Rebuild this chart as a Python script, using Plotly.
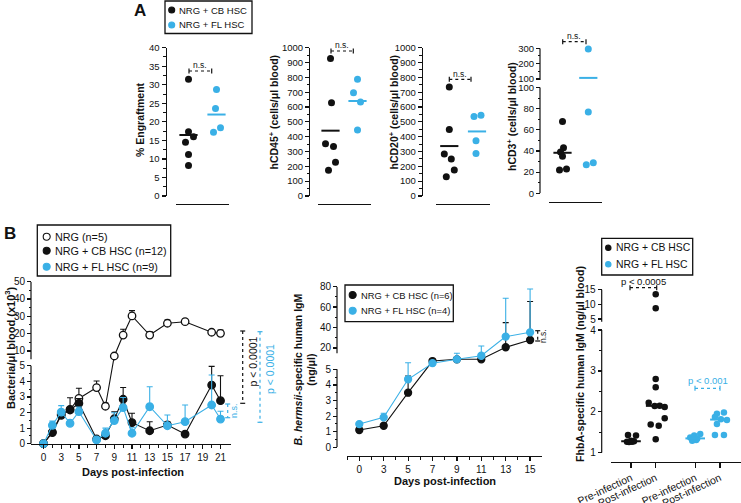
import numpy as np
import plotly.graph_objects as go

W, H = 741, 503
INK = "#111111"
SKY = "#3AB0E6"
FONT = "Liberation Sans, Arial, Helvetica, sans-serif"

# ============================ DATA ============================
# Panel A (one value per mouse)
engraft_cb = [31.5, 17.3, 16.0, 14.5, 11.2, 8.2]
engraft_fl = [28.7, 23.6, 18.4, 17.2]
hcd45_cb = [928, 629, 353, 333, 227, 173]
hcd45_fl = [787, 697, 634, 445]
hcd20_cb = [735, 448, 283, 249, 176, 129]
hcd20_fl = [545, 536, 373, 287]
hcd3_cb = [68, 43, 39, 35, 23, 22]
hcd3_fl = [296, 77, 29, 27]

# Panel B left: bacteria/µl blood (x10^3), mean and upper SEM
b1_x = [0, 1, 2, 3, 4, 6, 7, 8, 9, 10, 12, 14, 16, 19, 20]
b1_tick_x = [0, 2, 4, 6, 8, 10, 12, 14, 16, 18, 20]
b1_tick_text = ["0", "3", "5", "7", "9", "11", "13", "15", "17", "19", "21"]
nrg_mean = [0, 0.75, 1.9, 2.2, 2.9, 3.6, 2.4, 7.1, 19.2, 30.2, 19.2, 26.0, 26.9, 20.8, 20.2]
nrg_sem = [0, 0, 0, 0, 0.65, 0.42, 0.2, 0, 3.3, 3.1, 2.0, 1.9, 1.4, 1.3, 1.9]
cb_mean = [0, 0.71, 1.82, 2.16, 2.59, 0.3, 0.51, 1.6, 2.85, 1.35, 0.83, 1.2, 0.62, 3.76, 2.76]
cb_sem = [0, 0.1, 0.2, 0.79, 0.3, 0.1, 0.1, 0.45, 0.75, 0.6, 0.58, 0.2, 0.1, 1.2, 1.6]
fl_mean = [0, 1.18, 2.03, 1.31, 2.05, 0.24, 0.67, 1.48, 2.31, 0.67, 2.37, 1.15, 1.41, 2.48, 1.58]
fl_sem = [0, 0.27, 0.41, 0.2, 0.3, 0.1, 0.33, 0.5, 0.65, 0.35, 1.28, 0.69, 1.07, 1.92, 0.5]

# Panel B middle: B. hermsii-specific human IgM (ng/µl)
b2_days = ["0", "3", "5", "7", "9", "11", "13", "15"]
igm_cb_mean = [1.11, 1.38, 3.5, 7.2, 8.9, 8.9, 20.7, 27.8]
igm_cb_sem = [0.05, 0.1, 1.07, 0.5, 0.5, 3.0, 24.1, 37.6]
igm_fl_mean = [1.49, 1.92, 4.36, 5.1, 8.9, 12.4, 31.1, 35.3]
igm_fl_sem = [0.05, 0.26, 1.2, 0.5, 5.9, 9.5, 37.6, 42.4]

# Panel B right: FhbA-specific human IgM (ng/µl blood)
b3_labels = ["Pre-infection", "Post-infection", "Pre-infection", "Post-infection"]
fhba_cb_pre = [1.43, 1.42, 1.29, 1.28, 1.27, 1.27, 1.26]
fhba_cb_post = [13.4, 8.6, 2.80, 2.60, 2.22, 2.15, 2.14, 2.12, 1.84, 1.69, 1.66, 1.33]
fhba_fl_pre = [1.46, 1.42, 1.37, 1.35, 1.33, 1.31, 1.29]
fhba_fl_post = [1.98, 1.95, 1.87, 1.82, 1.80, 1.70, 1.43, 1.43]

# ====================== LAYOUT CONSTANTS ======================
# horizontal jitter of dots (pixels)
jit_engraft_cb = [0, 0, 5, -3, 0, 0]
jit_engraft_fl = [0, -1, 4, -3]
jit_hcd45_cb = [0, 1, -5, 3, 5, -2]
jit_hcd45_fl = [0, -4, 3, 0]
jit_hcd20_cb = [0, 0, -5, 2, 5, -3]
jit_hcd20_fl = [4, -3, -1, -1]
jit_hcd3_cb = [0, 1, -2, 0, 4, -3]
jit_hcd3_fl = [0, 0, 5, -2]
jit_cb_pre = [-3, 5, 0, 3, -4, 1, -2]
jit_cb_post = [0, 0, 0, 0, -7, 4, -1, 9, 9, -5, 3, 0]
jit_fl_pre = [5, -1, -5, 2, -2, 1, -3]
jit_fl_post = [4, -3, -5, 1, 7, -3, -5, 4]
b3_pos = [0, 1, 2.6, 3.6]


def px(x):
    return x / W


def py(y):
    return 1 - y / H


def ids(n):
    return ("x" if n == 1 else f"x{n}", "y" if n == 1 else f"y{n}")


def keys(n):
    return ("xaxis" if n == 1 else f"xaxis{n}", "yaxis" if n == 1 else f"yaxis{n}")


def make_scale(lo_k, lo_v0, hi_b, hi_k, split):
    def lo(v):
        return (np.asarray(v, float) - lo_v0) * lo_k

    def hi(v):
        return hi_b + hi_k * np.asarray(v, float)

    def tf(v):
        v = np.asarray(v, float)
        return np.where(v <= split, lo(v), hi(v))

    return lo, hi, tf


def ident(v):
    return np.asarray(v, float)


fig = go.Figure()
lay = {}
shapes = []
annos = []


def tfont(s):
    return dict(family=FONT, size=s, color=INK)


def yax(dom_bottom, dom_top, rng, pos_x, tv, tt, mv, fs, showline=True):
    return dict(domain=[py(dom_bottom), py(dom_top)], range=rng, anchor="free", position=px(pos_x),
                showline=showline, linecolor=INK, linewidth=1.2, ticks="outside", ticklen=4,
                tickwidth=1.2, tickcolor=INK, tickmode="array", tickvals=list(map(float, tv)),
                ticktext=list(tt), tickfont=tfont(fs), automargin=False,
                minor=dict(tickmode="array", tickvals=list(map(float, mv)), ticks="outside",
                           ticklen=2.5, tickwidth=1, tickcolor=INK),
                showgrid=False, zeroline=False, fixedrange=True)


def xax(x0, x1, rng, line_y, tv=None, tt=None, mv=None, fs=10, angle=None, ticks=True):
    d = dict(domain=[px(x0), px(x1)], range=rng, anchor="free", position=py(line_y),
             showline=True, linecolor=INK, linewidth=1.2, showgrid=False, zeroline=False,
             fixedrange=True, automargin=False)
    if ticks:
        d.update(ticks="outside", ticklen=4, tickwidth=1.2, tickcolor=INK, tickmode="array",
                 tickvals=tv, ticktext=tt, tickfont=tfont(fs))
        if mv is not None:
            d["minor"] = dict(tickmode="array", tickvals=mv, ticks="outside", ticklen=3,
                              tickwidth=1, tickcolor=INK)
        if angle is not None:
            d["tickangle"] = angle
    else:
        d.update(ticks="", showticklabels=False)
    return d


def vline(n_y, x, d0, d1):
    shapes.append(dict(type="line", xref="paper", yref=ids(n_y)[1], x0=px(x), x1=px(x), y0=d0, y1=d1,
                       line=dict(color=INK, width=1.2)))


def text(x, y, s, size, color=INK, angle=0, xanchor="center", yanchor="middle"):
    annos.append(dict(x=px(x), y=py(y), xref="paper", yref="paper", text=s, showarrow=False,
                      font=dict(family=FONT, size=size, color=color), textangle=angle,
                      xanchor=xanchor, yanchor=yanchor))


def pline(x0, y0, x1, y1, color, dash="solid", w=1.2):
    shapes.append(dict(type="line", xref="paper", yref="paper", x0=px(x0), y0=py(y0), x1=px(x1), y1=py(y1),
                       line=dict(color=color, width=w, dash=dash)))


def hbracket(x0, x1, y, color):
    pline(x0, y, x1, y, color, "dot")
    pline(x0, y - 2.5, x0, y + 2.5, color)
    pline(x1, y - 2.5, x1, y + 2.5, color)


def vbracket(x, y0, y1, color):
    pline(x, y0, x, y1, color, "dot")
    pline(x - 2.5, y0, x + 2.5, y0, color)
    pline(x - 2.5, y1, x + 2.5, y1, color)


def rect(x0, y0, x1, y1):
    shapes.append(dict(type="rect", xref="paper", yref="paper", x0=px(x0), y0=py(y0), x1=px(x1), y1=py(y1),
                       line=dict(color=INK, width=1.3), fillcolor="rgba(0,0,0,0)"))


def ldot(x, y, color, r, fill=None):
    shapes.append(dict(type="circle", xref="paper", yref="paper", xsizemode="pixel", ysizemode="pixel",
                       xanchor=px(x), yanchor=py(y), x0=-r, x1=r, y0=-r, y1=r,
                       fillcolor=fill or color, line=dict(color=color, width=1.1)))


def dots(n, pos, vals, jit, sc, color, tf, agg, size=7, lw=13):
    xid, yid = ids(n)
    fig.add_trace(go.Scatter(x=pos + np.asarray(jit, float) / sc, y=tf(vals), mode="markers",
                             marker=dict(color=color, size=size, line=dict(width=0)),
                             xaxis=xid, yaxis=yid, cliponaxis=False, showlegend=False, hoverinfo="skip"))
    fig.add_trace(go.Scatter(x=[pos], y=tf([agg(vals)]), mode="markers",
                             marker=dict(symbol="line-ew", size=lw, color=color, line=dict(color=color, width=2)),
                             xaxis=xid, yaxis=yid, cliponaxis=False, showlegend=False, hoverinfo="skip"))


# ============================ PANEL A ============================
A_specs = [
    # n, axis x, underline x0, x1, underline y, base py, top py, cb centre, fl centre
    (1, 165.5, 176, 229, 204, 196, 47.7, 188.5, 216.5, engraft_cb, engraft_fl, jit_engraft_cb, jit_engraft_fl),
    (2, 309, 318, 371, 204, 196, 47.7, 330.5, 357.5, hcd45_cb, hcd45_fl, jit_hcd45_cb, jit_hcd45_fl),
    (3, 421.7, 436, 490, 204, 196, 47.7, 449.3, 477, hcd20_cb, hcd20_fl, jit_hcd20_cb, jit_hcd20_fl),
]
for n, axx, lx0, lx1, ly, base, top, ccb, cfl, vcb, vfl, jcb, jfl in A_specs:
    sc = cfl - ccb
    r0 = 1 - (ccb - lx0) / sc
    xk, yk = keys(n)
    lay[xk] = xax(lx0, lx1, [r0, r0 + (lx1 - lx0) / sc], ly, ticks=False)
    if n == 1:
        tv = np.arange(0, 41, 5); mv = np.arange(2.5, 40, 5); rng = [0, 40.001]
    else:
        tv = np.arange(0, 1001, 100); mv = np.arange(50, 1000, 100); rng = [0, 1000.01]
    lay[yk] = yax(base, top, rng, axx, tv, [str(int(t)) for t in tv], mv, 9.5)
    dots(n, 1, vcb, jcb, sc, INK, ident, np.mean)
    dots(n, 2, vfl, jfl, sc, SKY, ident, np.mean)

# A4 with broken axis
lo4, hi4, tf4 = make_scale(1.057, 0, 98.95, 0.1535, 100)
ccb, cfl = 562.5, 588.3
sc = cfl - ccb
r0 = 1 - (ccb - 549) / sc
lay["xaxis4"] = xax(549, 602, [r0, r0 + 53 / sc], 202, ticks=False)
d_top4 = float(hi4(300))
tv4 = list(lo4([0, 20, 40, 60, 80, 100])) + list(hi4([100, 200, 300]))
tt4 = ["0", "20", "40", "60", "80", "100", "100", "200", "300"]
mv4 = list(lo4([10, 30, 50, 70, 90])) + list(hi4([150, 250]))
lay["yaxis4"] = yax(193.3, 193.3 - d_top4, [0, d_top4 + 0.01], 540, tv4, tt4, mv4, 9.5, showline=False)
vline(4, 540, 0, float(lo4(100)))
vline(4, 540, float(hi4(94)), d_top4)
dots(4, 1, hcd3_cb, jit_hcd3_cb, sc, INK, tf4, np.mean)
dots(4, 2, hcd3_fl, jit_hcd3_fl, sc, SKY, tf4, np.mean)

# panel A texts
text(140, 11, "<b>A</b>", 17)
rect(165, 1, 252, 33.5)
ldot(171.7, 10, INK, 3)
ldot(171.7, 25, SKY, 3)
text(177, 10, "NRG + CB HSC", 9.5, xanchor="left")
text(177, 25, "NRG + FL HSC", 9.5, xanchor="left")
text(140, 120, "<b>% Engraftment</b>", 10.5, angle=-90)
text(273.5, 112, "<b>hCD45<sup>+</sup> (cells/μl blood)</b>", 10.5, angle=-90)
text(393.5, 112, "<b>hCD20<sup>+</sup> (cells/μl blood)</b>", 10.5, angle=-90)
text(512, 117, "<b>hCD3<sup>+</sup> (cells/μl blood)</b>", 10.5, angle=-90)
for x0, x1, y in [(189, 211.7, 71), (331, 353.3, 51), (449.3, 471, 79.3), (562.7, 586, 41.7)]:
    hbracket(x0, x1, y, INK)
    text((x0 + x1) / 2, y - 5.5, "n.s.", 8.5)

# ============================ PANEL B1 ============================
lo1, hi1, tf1 = make_scale(15.6, 0, 75.4, 1.733, 5)
d_top1 = float(hi1(50))
tv1 = list(lo1([0, 1, 2, 3, 4, 5])) + list(hi1([10, 20, 30, 40, 50]))
tt1 = ["0", "1", "2", "3", "4", "5", "10", "20", "30", "40", "50"]
mv1 = list(lo1([0.5, 1.5, 2.5, 3.5, 4.5])) + list(hi1([15, 25, 35, 45]))
lay["yaxis5"] = yax(443.7, 443.7 - d_top1, [0, d_top1 + 0.01], 31, tv1, tt1, mv1, 10, showline=False)
vline(5, 31, 0, float(lo1(5)))
vline(5, 31, 84.4, d_top1)
sx1 = 8.85
r0 = -(43.5 - 31) / sx1
lay["xaxis5"] = xax(31, 231, [r0, r0 + 200 / sx1], 443.7, b1_tick_x, b1_tick_text,
                    [p + 1 for p in b1_tick_x[:-1]], 10)


def err_disp(tf, mean, sem):
    mean = np.asarray(mean, float)
    sem = np.asarray(sem, float)
    return tf(mean + sem) - tf(mean)


def series(n, x, mean, sem, tf, color, fill, size=7.5, lw=1.1):
    xid, yid = ids(n)
    fig.add_trace(go.Scatter(
        x=x, y=tf(mean), mode="lines+markers",
        line=dict(color=color, width=lw),
        marker=dict(color=fill, size=size, line=dict(color=color, width=1.3)),
        error_y=dict(type="data", symmetric=False, array=err_disp(tf, mean, sem),
                     arrayminus=[0] * len(mean), color=color, thickness=1.1, width=3),
        xaxis=xid, yaxis=yid, cliponaxis=False, showlegend=False, hoverinfo="skip"))


series(5, b1_x, nrg_mean, nrg_sem, tf1, INK, "white")
series(5, b1_x, cb_mean, cb_sem, tf1, INK, INK)
series(5, b1_x, fl_mean, fl_sem, tf1, SKY, SKY)

text(10, 233, "<b>B</b>", 17)
rect(37.3, 225, 170.7, 276)
ldot(46.7, 236.7, INK, 3.5, fill="white")
ldot(46.7, 250.7, INK, 3.5)
ldot(46.7, 266.7, SKY, 3.5)
text(52.5, 236.7, "NRG (n=5)", 10.8, xanchor="left")
text(52.5, 250.7, "NRG + CB HSC (n=12)", 10.8, xanchor="left")
text(52.5, 266.7, "NRG + FL HSC (n=9)", 10.8, xanchor="left")
text(10, 348, "<b>Bacteria/μl blood (x10<sup>3</sup>)</b>", 11, angle=-90)
text(132.5, 471.7, "<b>Days post-infection</b>", 11)
vbracket(242.7, 331, 403.3, INK)
text(252.5, 362, "p < 0.0001", 10.5, angle=-90)
vbracket(260, 331.7, 422.3, SKY)
text(270, 369, "p < 0.0001", 10.5, color=SKY, angle=-90)
vbracket(227.7, 404, 417.7, SKY)
text(234, 411, "n.s.", 9, color=SKY, angle=-90)

# ============================ PANEL B2 ============================
lo2, hi2, tf2 = make_scale(15.6, 0, 78.9, 1.022, 5)
d_top2 = float(hi2(80))
tv2 = list(lo2([0, 1, 2, 3, 4, 5])) + list(hi2([20, 40, 60, 80]))
tt2 = ["0", "1", "2", "3", "4", "5", "20", "40", "60", "80"]
mv2 = list(lo2([0.5, 1.5, 2.5, 3.5, 4.5])) + list(hi2([30, 50, 70]))
lay["yaxis6"] = yax(447.3, 447.3 - d_top2, [0, d_top2 + 0.01], 337, tv2, tt2, mv2, 10, showline=False)
vline(6, 337, 0, float(lo2(5)))
vline(6, 337, 94, d_top2)
b2_x = np.arange(len(b2_days))
sx2 = 24.4
r0 = -(359.3 - 347) / sx2
lay["xaxis6"] = xax(347, 541.7, [r0, r0 + 194.7 / sx2], 455.7, list(b2_x), b2_days,
                    [p - 0.5 for p in b2_x] + [len(b2_x) - 0.5], 10)
series(6, b2_x, igm_cb_mean, igm_cb_sem, tf2, INK, INK, size=7)
series(6, b2_x, igm_fl_mean, igm_fl_sem, tf2, SKY, SKY, size=7)

rect(345, 285, 453.3, 321.7)
ldot(352.7, 295, INK, 3.5)
ldot(352.7, 310.7, SKY, 3.5)
text(359, 295, "NRG + CB HSC (n=6)", 9.4, xanchor="left")
text(359, 310.7, "NRG + FL HSC (n=4)", 9.4, xanchor="left")
text(304.5, 370, "<b><i>B. hermsii</i>-specific human IgM</b><br><b>(ng/μl)</b>", 10.5, angle=-90)
text(445, 480.7, "<b>Days post-infection</b>", 11)
vbracket(537.7, 330.7, 341, INK)
text(543, 336, "n.s.", 8.5, angle=-90)

# ============================ PANEL B3 ============================
lo3, hi3, tf3 = make_scale(40.9, 1, 118.9, 2.96, 4.5)
d_top3 = float(hi3(15))
tv3 = list(lo3([1, 2, 3, 4])) + list(hi3([5, 10, 15]))
tt3 = ["1", "2", "3", "4", "5", "10", "15"]
mv3 = list(lo3([1.5, 2.5, 3.5]))
lay["yaxis7"] = yax(452.7, 452.7 - d_top3, [0, d_top3 + 0.01], 601.7, tv3, tt3, mv3, 10, showline=False)
vline(7, 601.7, 0, float(lo3(4)))
vline(7, 601.7, 131, d_top3)
sx3 = 24.7
r0 = -(631 - 610.7) / sx3
lay["xaxis7"] = xax(610.7, 741, [r0, r0 + 130.3 / sx3], 461.7, b3_pos, b3_labels, None, 10.5, angle=-25)
lay["xaxis7"]["ticklen"] = 5
dots(7, b3_pos[0], fhba_cb_pre, jit_cb_pre, sx3, INK, tf3, np.median, size=6.5, lw=14)
dots(7, b3_pos[1], fhba_cb_post, jit_cb_post, sx3, INK, tf3, np.median, size=6.5, lw=14)
dots(7, b3_pos[2], fhba_fl_pre, jit_fl_pre, sx3, SKY, tf3, np.median, size=6.5, lw=14)
dots(7, b3_pos[3], fhba_fl_post, jit_fl_post, sx3, SKY, tf3, np.median, size=6.5, lw=14)

rect(601.7, 238.3, 692.7, 275)
ldot(608.3, 247.7, INK, 2.7)
ldot(608.3, 264.3, SKY, 2.7)
text(614, 247.7, "NRG + CB HSC", 10.4, xanchor="left")
text(614, 264.3, "NRG + FL HSC", 10.4, xanchor="left")
text(580, 364, "<b>FhbA-specific human IgM (ng/μl blood)</b>", 10.6, angle=-90)
hbracket(630, 656.7, 287.7, INK)
text(643.3, 281, "p < 0.0005", 9.5)
hbracket(695, 720, 388.3, SKY)
text(707.5, 380, "p < 0.001", 9.5, color=SKY)

fig.update_layout(
    template="none",
    width=W, height=H, autosize=False,
    margin=dict(l=0, r=0, t=0, b=0, pad=0),
    paper_bgcolor="white", plot_bgcolor="rgba(0,0,0,0)",
    font=dict(family=FONT, color=INK),
    showlegend=False, hovermode=False,
    shapes=shapes, annotations=annos,
    **lay,
)
fig.write_html("out.html", config={"displayModeBar": False, "staticPlot": True},
               post_script="document.body.style.margin='0';document.body.style.padding='0';")
